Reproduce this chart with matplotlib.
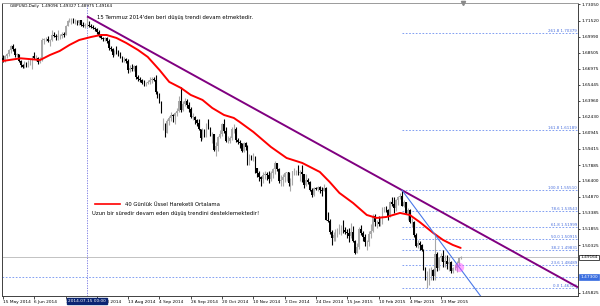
import numpy as np
import matplotlib.pyplot as plt
from matplotlib.lines import Line2D
from matplotlib.transforms import blended_transform_factory

# daily GBPUSD bars, 15 May 2014 -> early Apr 2015 (one row per week)
opens = [
    1.6800, 1.6775,
    1.6815, 1.6840, 1.6870, 1.6915, 1.6880,
    1.6830, 1.6835, 1.6770, 1.6730, 1.6715,
    1.6755, 1.6735, 1.6765, 1.6770, 1.6815,
    1.6795, 1.6800, 1.6765, 1.6790, 1.6965,
    1.6975, 1.6980, 1.6960, 1.6970, 1.7015,
    1.7010, 1.6995, 1.7005, 1.7010, 1.7030,
    1.7020, 1.7105, 1.7150, 1.7160, 1.7165,
    1.7140, 1.7145, 1.7130, 1.7155, 1.7115,
    1.7105, 1.7110, 1.7115, 1.7105, 1.7090,
    1.7080, 1.7070, 1.7045, 1.7010, 1.6985,
    1.6980, 1.6985, 1.6960, 1.6890, 1.6880,
    1.6830, 1.6865, 1.6855, 1.6835, 1.6805,
    1.6785, 1.6790, 1.6770, 1.6685, 1.6705,
    1.6695, 1.6725, 1.6615, 1.6600, 1.6595,
    1.6565, 1.6560, 1.6565, 1.6575, 1.6595,
    1.6600, 1.6595, 1.6475, 1.6450, 1.6385,
    1.6155, 1.6165, 1.6095, 1.6205, 1.6230,
    1.6265, 1.6255, 1.6275, 1.6300, 1.6395,
    1.6305, 1.6365, 1.6395, 1.6355, 1.6315,
    1.6245, 1.6245, 1.6215, 1.6185, 1.6125,
    1.6040, 1.6110, 1.6095, 1.6150, 1.6140,
    1.6080, 1.6080, 1.5930, 1.5965, 1.6050,
    1.6085, 1.6175, 1.6110, 1.6015, 1.6015,
    1.6040, 1.6130, 1.6130, 1.6020, 1.6010,
    1.5995, 1.5925, 1.5995, 1.5960, 1.5815,
    1.5875, 1.5860, 1.5865, 1.5765, 1.5715,
    1.5680, 1.5655, 1.5690, 1.5700, 1.5695,
    1.5660, 1.5715, 1.5755, 1.5805, 1.5750,
    1.5640, 1.5650, 1.5675, 1.5710, 1.5720,
    1.5615, 1.5660, 1.5730, 1.5730, 1.5730,
    1.5710, 1.5725, 1.5700, 1.5600, 1.5650,
    1.5630, 1.5555, 1.5510, 1.5570, 1.5560,
    1.5585, 1.5550, 1.5545, 1.5575,
    1.5270, 1.5260, 1.5160, 1.5100, 1.5125,
    1.5160, 1.5165, 1.5190, 1.5195, 1.5175,
    1.5155, 1.5145, 1.5120, 1.5160, 1.5075,
    1.4960, 1.5015, 1.5180, 1.5150, 1.5110,
    1.5060, 1.5060, 1.5140, 1.5170, 1.5305,
    1.5250, 1.5255, 1.5235, 1.5240, 1.5385,
    1.5385, 1.5365, 1.5310, 1.5440, 1.5425,
    1.5385, 1.5460, 1.5490, 1.5495, 1.5405,
    1.5435, 1.5340, 1.5365, 1.5250, 1.5255,
    1.5130, 1.5025, 1.5050, 1.5035, 1.4985,
    1.4815, 1.4720, 1.4775, 1.4790, 1.4800,
    1.4740, 1.4950, 1.4815, 1.4910, 1.4930,
    1.4870, 1.4880, 1.4850, 1.4870, 1.4790,
    1.4815, 1.4820, 1.4860, 1.49096,
]
highs = [
    1.6830, 1.6830,
    1.6845, 1.6880, 1.6925, 1.6930, 1.6895,
    1.6850, 1.6840, 1.6780, 1.6745, 1.6775,
    1.6765, 1.6780, 1.6790, 1.6820, 1.6855,
    1.6830, 1.6805, 1.6810, 1.6990, 1.6990,
    1.6995, 1.7010, 1.6980, 1.7065, 1.7045,
    1.7030, 1.7065, 1.7030, 1.7040, 1.7040,
    1.7110, 1.7160, 1.7180, 1.7180, 1.7175,
    1.7165, 1.7155, 1.7160, 1.7160, 1.7135,
    1.7130, 1.7192, 1.7150, 1.7120, 1.7115,
    1.7090, 1.7080, 1.7060, 1.7030, 1.7000,
    1.6995, 1.6995, 1.6980, 1.6910, 1.6895,
    1.6875, 1.6910, 1.6870, 1.6855, 1.6815,
    1.6810, 1.6795, 1.6790, 1.6730, 1.6745,
    1.6735, 1.6735, 1.6640, 1.6620, 1.6605,
    1.6590, 1.6575, 1.6590, 1.6620, 1.6615,
    1.6615, 1.6640, 1.6490, 1.6470, 1.6395,
    1.6235, 1.6185, 1.6225, 1.6255, 1.6285,
    1.6270, 1.6285, 1.6330, 1.6440, 1.6525,
    1.6390, 1.6420, 1.6415, 1.6385, 1.6335,
    1.6275, 1.6250, 1.6225, 1.6225, 1.6130,
    1.6135, 1.6125, 1.6185, 1.6225, 1.6150,
    1.6100, 1.6085, 1.6010, 1.6065, 1.6115,
    1.6185, 1.6225, 1.6145, 1.6060, 1.6065,
    1.6150, 1.6180, 1.6145, 1.6045, 1.6020,
    1.5995, 1.6005, 1.6005, 1.5975, 1.5890,
    1.5880, 1.5905, 1.5875, 1.5765, 1.5735,
    1.5685, 1.5720, 1.5735, 1.5720, 1.5735,
    1.5730, 1.5765, 1.5825, 1.5810, 1.5760,
    1.5695, 1.5700, 1.5725, 1.5725, 1.5720,
    1.5665, 1.5735, 1.5765, 1.5745, 1.5785,
    1.5745, 1.5785, 1.5705, 1.5705, 1.5665,
    1.5640, 1.5575, 1.5580, 1.5580, 1.5590,
    1.5595, 1.5585, 1.5610, 1.5585,
    1.5345, 1.5280, 1.5175, 1.5155, 1.5185,
    1.5190, 1.5235, 1.5225, 1.5270, 1.5205,
    1.5180, 1.5195, 1.5240, 1.5210, 1.5085,
    1.5050, 1.5200, 1.5220, 1.5165, 1.5140,
    1.5080, 1.5170, 1.5235, 1.5325, 1.5330,
    1.5265, 1.5305, 1.5295, 1.5395, 1.5395,
    1.5400, 1.5375, 1.5450, 1.5490, 1.5485,
    1.5470, 1.5500, 1.5520, 1.5551, 1.5460,
    1.5440, 1.5380, 1.5370, 1.5285, 1.5260,
    1.5150, 1.5080, 1.5075, 1.5045, 1.4995,
    1.4830, 1.4790, 1.4820, 1.4830, 1.4810,
    1.5125, 1.4965, 1.4920, 1.4960, 1.4990,
    1.4940, 1.4935, 1.4920, 1.4880, 1.4830,
    1.4850, 1.4880, 1.4920, 1.49327,
]
lows = [
    1.6760, 1.6765,
    1.6800, 1.6820, 1.6850, 1.6865, 1.6810,
    1.6810, 1.6760, 1.6715, 1.6700, 1.6705,
    1.6715, 1.6715, 1.6735, 1.6695, 1.6785,
    1.6770, 1.6740, 1.6750, 1.6775, 1.6935,
    1.6955, 1.6950, 1.6915, 1.6955, 1.6995,
    1.6965, 1.6965, 1.6975, 1.6990, 1.6995,
    1.7015, 1.7100, 1.7135, 1.7120, 1.7125,
    1.7120, 1.7115, 1.7110, 1.7105, 1.7095,
    1.7080, 1.7090, 1.7090, 1.7080, 1.7070,
    1.7050, 1.7030, 1.7000, 1.6975, 1.6960,
    1.6960, 1.6945, 1.6875, 1.6865, 1.6810,
    1.6825, 1.6840, 1.6820, 1.6795, 1.6765,
    1.6765, 1.6755, 1.6655, 1.6665, 1.6680,
    1.6680, 1.6605, 1.6580, 1.6570, 1.6555,
    1.6535, 1.6535, 1.6550, 1.6550, 1.6565,
    1.6580, 1.6455, 1.6420, 1.6370, 1.6280,
    1.6120, 1.6055, 1.6095, 1.6170, 1.6200,
    1.6190, 1.6180, 1.6250, 1.6285, 1.6290,
    1.6300, 1.6350, 1.6330, 1.6290, 1.6235,
    1.6215, 1.6180, 1.6160, 1.6120, 1.6015,
    1.6030, 1.6055, 1.6055, 1.6125, 1.6065,
    1.6000, 1.5925, 1.5875, 1.5925, 1.6045,
    1.6065, 1.6095, 1.6005, 1.5995, 1.5995,
    1.6025, 1.6095, 1.6010, 1.5990, 1.5945,
    1.5915, 1.5910, 1.5935, 1.5790, 1.5790,
    1.5835, 1.5830, 1.5710, 1.5680, 1.5640,
    1.5590, 1.5620, 1.5660, 1.5650, 1.5620,
    1.5640, 1.5670, 1.5705, 1.5730, 1.5620,
    1.5590, 1.5590, 1.5625, 1.5635, 1.5590,
    1.5545, 1.5600, 1.5695, 1.5690, 1.5690,
    1.5640, 1.5630, 1.5575, 1.5590, 1.5610,
    1.5545, 1.5490, 1.5500, 1.5555, 1.5545,
    1.5525, 1.5500, 1.5540, 1.5265,
    1.5255, 1.5140, 1.5035, 1.5075, 1.5075,
    1.5110, 1.5135, 1.5125, 1.5145, 1.5135,
    1.5100, 1.5065, 1.5100, 1.5060, 1.4950,
    1.4955, 1.4995, 1.5130, 1.5070, 1.5020,
    1.4985, 1.5025, 1.5100, 1.5160, 1.5215,
    1.5195, 1.5210, 1.5210, 1.5230, 1.5345,
    1.5345, 1.5265, 1.5300, 1.5405, 1.5340,
    1.5350, 1.5415, 1.5470, 1.5400, 1.5395,
    1.5330, 1.5265, 1.5240, 1.5205, 1.5110,
    1.5015, 1.5005, 1.4990, 1.4975, 1.4800,
    1.4705, 1.4632, 1.4660, 1.4705, 1.4700,
    1.4700, 1.4790, 1.4800, 1.4880, 1.4830,
    1.4825, 1.4805, 1.4790, 1.4770, 1.4770,
    1.4795, 1.4780, 1.4840, 1.48975,
]
closes = [
    1.6775, 1.6815,
    1.6840, 1.6870, 1.6915, 1.6880, 1.6830,
    1.6835, 1.6770, 1.6730, 1.6715, 1.6755,
    1.6735, 1.6765, 1.6770, 1.6815, 1.6795,
    1.6800, 1.6765, 1.6790, 1.6965, 1.6975,
    1.6980, 1.6960, 1.6970, 1.7015, 1.7010,
    1.6995, 1.7005, 1.7010, 1.7030, 1.7020,
    1.7105, 1.7150, 1.7160, 1.7165, 1.7140,
    1.7145, 1.7130, 1.7155, 1.7115, 1.7105,
    1.7110, 1.7115, 1.7105, 1.7090, 1.7080,
    1.7070, 1.7045, 1.7010, 1.6985, 1.6980,
    1.6985, 1.6960, 1.6890, 1.6880, 1.6830,
    1.6865, 1.6855, 1.6835, 1.6805, 1.6785,
    1.6790, 1.6770, 1.6685, 1.6705, 1.6695,
    1.6725, 1.6615, 1.6600, 1.6595, 1.6565,
    1.6560, 1.6565, 1.6575, 1.6595, 1.6600,
    1.6595, 1.6475, 1.6450, 1.6385, 1.6310,
    1.6165, 1.6095, 1.6205, 1.6230, 1.6265,
    1.6255, 1.6275, 1.6300, 1.6395, 1.6305,
    1.6365, 1.6395, 1.6355, 1.6315, 1.6245,
    1.6245, 1.6215, 1.6185, 1.6125, 1.6040,
    1.6110, 1.6095, 1.6150, 1.6140, 1.6080,
    1.6080, 1.5930, 1.5965, 1.6050, 1.6085,
    1.6175, 1.6110, 1.6015, 1.6015, 1.6040,
    1.6130, 1.6130, 1.6020, 1.6010, 1.5995,
    1.5925, 1.5995, 1.5960, 1.5815, 1.5875,
    1.5860, 1.5865, 1.5765, 1.5715, 1.5680,
    1.5655, 1.5690, 1.5700, 1.5695, 1.5660,
    1.5715, 1.5755, 1.5805, 1.5750, 1.5640,
    1.5650, 1.5675, 1.5710, 1.5720, 1.5615,
    1.5660, 1.5730, 1.5730, 1.5730, 1.5710,
    1.5725, 1.5700, 1.5600, 1.5650, 1.5630,
    1.5555, 1.5510, 1.5570, 1.5560, 1.5585,
    1.5550, 1.5545, 1.5575, 1.5270,
    1.5260, 1.5160, 1.5100, 1.5125, 1.5160,
    1.5165, 1.5190, 1.5195, 1.5175, 1.5155,
    1.5145, 1.5120, 1.5160, 1.5075, 1.4960,
    1.5015, 1.5180, 1.5150, 1.5110, 1.5060,
    1.5060, 1.5140, 1.5170, 1.5305, 1.5250,
    1.5255, 1.5235, 1.5240, 1.5385, 1.5385,
    1.5365, 1.5310, 1.5440, 1.5425, 1.5385,
    1.5460, 1.5490, 1.5495, 1.5405, 1.5435,
    1.5340, 1.5365, 1.5250, 1.5255, 1.5130,
    1.5025, 1.5050, 1.5035, 1.4985, 1.4815,
    1.4720, 1.4775, 1.4790, 1.4800, 1.4740,
    1.4950, 1.4815, 1.4910, 1.4930, 1.4870,
    1.4880, 1.4850, 1.4870, 1.4790, 1.4815,
    1.4820, 1.4860, 1.4910, 1.49164,
]

# 40 day EMA at these bars
ema_bars = [0, 9, 19, 24, 29, 34, 39, 45, 50, 53, 58, 63, 69, 74, 80, 85, 91, 96,
            102, 107, 113, 118, 121, 128, 137, 145, 153, 162, 167, 172, 179, 186,
            191, 196, 203, 208, 213, 220, 225, 230, 234]
ema_vals = [1.6771, 1.6796, 1.6780, 1.6827, 1.6865, 1.6922, 1.6969, 1.6997, 1.7016,
            1.7016, 1.6988, 1.6941, 1.6875, 1.6809, 1.6686, 1.6573, 1.6516, 1.6450,
            1.6403, 1.6327, 1.6261, 1.6233, 1.6195, 1.6101, 1.5959, 1.5855, 1.5808,
            1.5723, 1.5629, 1.5525, 1.5430, 1.5317, 1.5289, 1.5298, 1.5336, 1.5317,
            1.5251, 1.5147, 1.5081, 1.5034, 1.5006]

date_labels = ['15 May 2014', '6 Jun 2014', '30 Jun 2014', '22 Jul 2014', '13 Aug 2014',
               '4 Sep 2014', '26 Sep 2014', '20 Oct 2014', '10 Nov 2014', '2 Dec 2014',
               '24 Dec 2014', '15 Jan 2015', '10 Feb 2015', '4 Mar 2015', '23 Mar 2015']
# visible price scale labels (two more sit under the price boxes)
price_ticks = [1.73050, 1.71520, 1.69990, 1.68505, 1.66975, 1.65445, 1.63960, 1.62430,
               1.60945, 1.59415, 1.57885, 1.56400, 1.54870, 1.53385, 1.51855, 1.50325,
               1.45825]

fib_ratios = [2.618, 1.618, 1.0, 0.786, 0.618, 0.5, 0.382, 0.236, 0.0]
fib_low, fib_high = 1.46320, 1.55510
fib_bar = 204
jul15_bar = 43
jul15_high = 1.7192
touch_bar = 233
touch_price = 1.4830
alert_level = 1.47300

o = np.array(opens); h = np.array(highs); l = np.array(lows); c = np.array(closes)
bars = np.arange(len(c))
xmax = 294

fig = plt.figure(figsize=(6, 3.06), dpi=100)
ax = fig.add_axes([2 / 600, 10 / 306, 576 / 600, 293 / 306])
ax.set_xlim(-0.5, xmax)
ax.set_ylim(1.4552, 1.7318)

bull_col = '#a8a8a8'
up = c >= o
ax.vlines(bars[up], l[up], h[up], color=bull_col, lw=0.8, zorder=3)
ax.vlines(bars[~up], l[~up], h[~up], color='black', lw=0.8, zorder=3)
ax.bar(bars, np.maximum(np.abs(c - o), 0.0003), bottom=np.minimum(o, c), width=0.8,
       color=np.where(up, bull_col, 'black'), linewidth=0, zorder=3)

# fibonacci levels
fib_col = '#6d8ff0'
for r in fib_ratios:
    lv = fib_low + r * (fib_high - fib_low)
    ax.hlines(lv, fib_bar, xmax, colors=fib_col, linestyles=(0, (2, 2)), lw=0.6, zorder=2)
    ax.text(xmax - 0.5, lv, f'{r * 100:.1f} {lv:.5f}', ha='right', va='bottom',
            fontsize=2.9, color='#4a70dd', zorder=4)

# alert line + current price line
ax.axhline(alert_level, color=fib_col, ls=(0, (2, 2)), lw=0.6, zorder=2)
ax.axhline(c[-1], color='#b8b8b8', lw=0.6, zorder=1)
ax.axvline(jul15_bar, color='#7070e0', ls=(0, (1.5, 1.5)), lw=0.6, zorder=2)

# EMA
ax.plot(ema_bars, ema_vals, color='#ff0000', lw=1.4, zorder=4, solid_capstyle='round')

# long downtrend line (Jul 15 high -> Feb 26 high, extended)
slope = (fib_high - jul15_high) / (fib_bar - jul15_bar)
ax.plot([jul15_bar, xmax], [jul15_high, jul15_high + slope * (xmax - jul15_bar)],
        color='#800080', lw=1.4, zorder=5, solid_capstyle='butt')
# short downtrend line
slope2 = (touch_price - fib_high) / (touch_bar - fib_bar)
ax.plot([fib_bar, 260], [fib_high, fib_high + slope2 * (260 - fib_bar)],
        color='#4a78e8', lw=0.8, zorder=5)
ax.scatter([touch_bar], [touch_price], s=45, color='#ff40ff', alpha=0.45, lw=0, zorder=6)

# axes styling
for sp in ax.spines.values():
    sp.set_color('#404040')
    sp.set_linewidth(0.7)
ax.spines['top'].set_color('#9a9a9a')
ax.yaxis.tick_right()
ax.set_yticks(price_ticks)
ax.set_yticklabels([f'{v:.5f}' for v in price_ticks])
ax.tick_params(axis='y', length=1.5, width=0.5, pad=1, labelsize=3.1, colors='black')
ax.set_xticks(np.arange(len(date_labels)) * 16)
ax.set_xticklabels(date_labels, ha='left')
ax.tick_params(axis='x', length=2, width=0.5, pad=1.2, labelsize=3.1)

trb = blended_transform_factory(ax.transAxes, ax.transData)
ax.text(1.004, c[-1], f'{c[-1]:.5f}', transform=trb, fontsize=3.1, va='center', ha='left',
        clip_on=False, zorder=10,
        bbox=dict(boxstyle='square,pad=0.2', fc='white', ec='black', lw=0.5))
ax.text(1.004, alert_level, f'{alert_level:.5f}', transform=trb, fontsize=3.1, va='center',
        ha='left', color='white', clip_on=False, zorder=10,
        bbox=dict(boxstyle='square,pad=0.2', fc='#3a6ee0', ec='#3a6ee0', lw=0.5))

trx = blended_transform_factory(ax.transData, ax.transAxes)
ax.text(jul15_bar, -0.017, '2014.07.15 00:00', transform=trx, fontsize=3.1, color='white',
        ha='center', va='center', clip_on=False, zorder=10,
        bbox=dict(boxstyle='square,pad=0.3', fc='#0a2472', ec='#0a2472'))

# chart shift marker
ax.plot([bars[-1] + 1], [1.7318], marker='v', ms=3, color='#8a8a8a', clip_on=False, zorder=10)

# texts
fig.text(10 / 600, 1 - 5.5 / 306, 'GBPUSD,Daily  1.49096 1.49327 1.48975 1.49164',
         fontsize=3.0, va='center', ha='left')
fig.text(97 / 600, 1 - 17 / 306, "15 Temmuz 2014'den beri düşüş trendi devam etmektedir.",
         fontsize=3.8, va='center', ha='left')
fig.add_artist(Line2D([95 / 600, 120 / 600], [1 - 204 / 306, 1 - 204 / 306],
                      color='#ff0000', lw=1.2))
fig.text(125 / 600, 1 - 204 / 306, '40 Günlük Üssel Hareketli Ortalama',
         fontsize=3.8, va='center', ha='left')
fig.text(92 / 600, 1 - 213 / 306, 'Uzun bir süredir devam eden düşüş trendini desteklemektedir!',
         fontsize=3.8, va='center', ha='left')

fig.savefig('out.png', dpi=100, facecolor='white')
